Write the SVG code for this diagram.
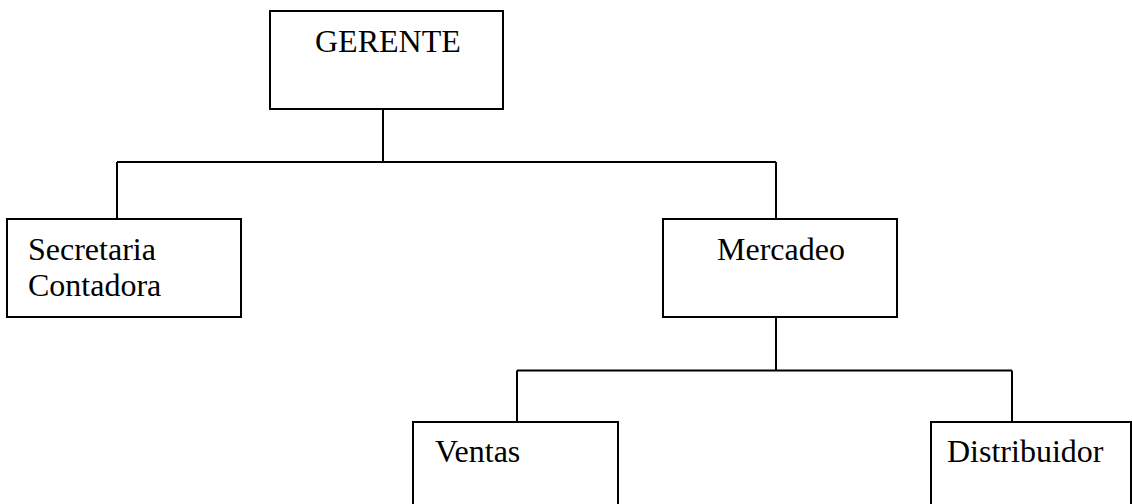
<svg xmlns="http://www.w3.org/2000/svg" width="1132" height="504" viewBox="0 0 1132 504">
<style>
.box{fill:#fff;stroke:#000;stroke-width:2}
.ln{fill:none;stroke:#000;stroke-width:2}
text{font-family:"Liberation Serif","Times New Roman",serif;font-size:32px;fill:#000}
</style>
<rect width="1132" height="504" fill="#fff"/>
<g id="connectors">
<path class="ln" d="M383 109V162M117 162H776M117 162V219M776 162V219"/>
<path class="ln" d="M776 317V370.5M517 370.5H1012M517 370.5V422M1012 370.5V422"/>
</g>
<g id="gerente"><rect class="box" x="270" y="11" width="233" height="98"/><text x="315" y="52">GERENTE</text></g>
<g id="secretaria"><rect class="box" x="7" y="219" width="234" height="98"/><text x="28" y="260">Secretaria</text><text x="28" y="296">Contadora</text></g>
<g id="mercadeo"><rect class="box" x="663" y="219" width="234" height="98"/><text x="717" y="260">Mercadeo</text></g>
<g id="ventas"><rect class="box" x="413" y="422" width="205" height="100"/><text x="435" y="462">Ventas</text></g>
<g id="distribuidor"><rect class="box" x="931" y="422" width="200" height="100"/><text x="947" y="462">Distribuidor</text></g>
</svg>
